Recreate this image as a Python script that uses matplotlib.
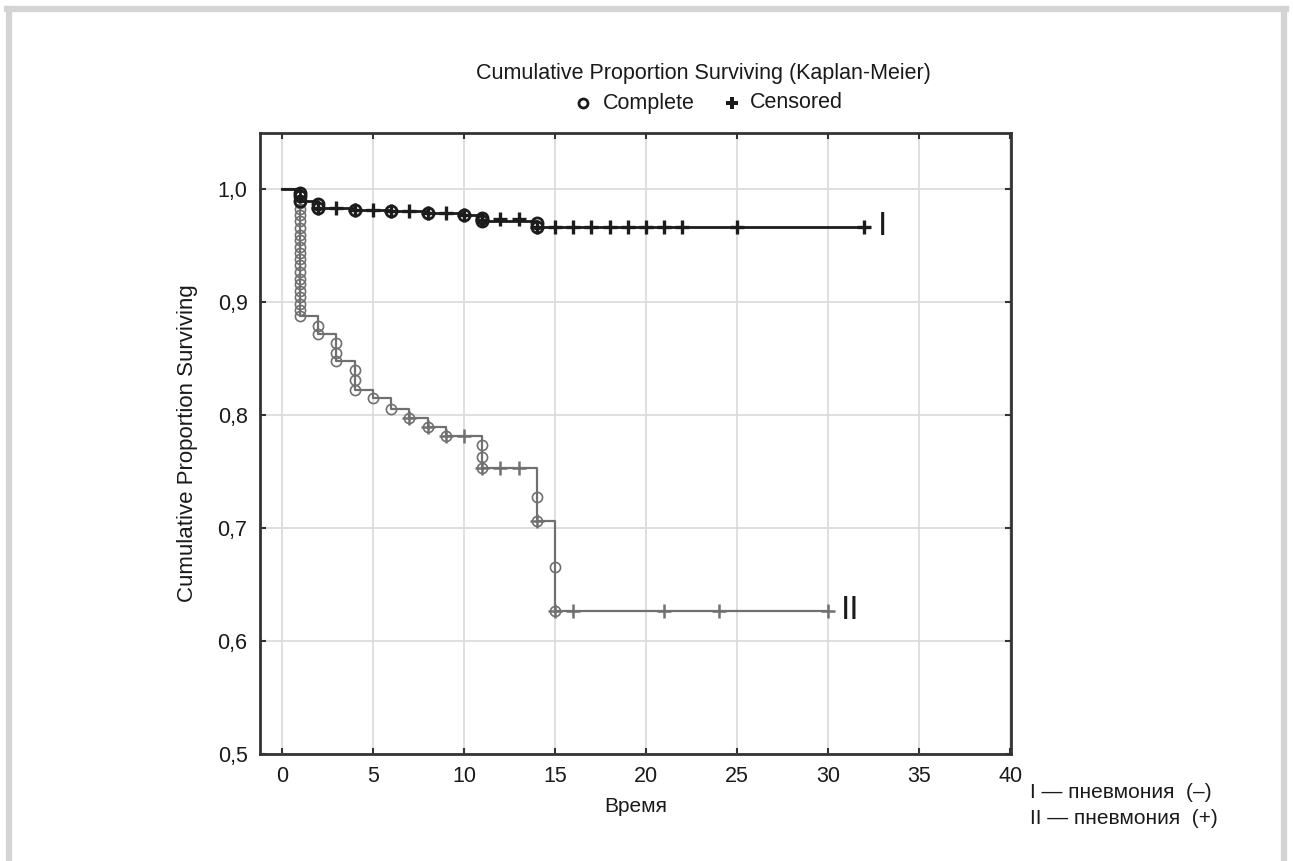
import matplotlib
matplotlib.use("Agg")
import matplotlib.pyplot as plt
from matplotlib.lines import Line2D

plt.rcParams['font.family'] = ['Liberation Sans', 'DejaVu Sans']

# group I (pneumonia -): step curve
t1 = [0, 1, 2, 4, 6, 8, 10, 11, 14, 32]
s1 = [1.0, 0.990, 0.984, 0.982, 0.981, 0.979, 0.977, 0.972, 0.967, 0.967]
# group I complete / censored marks
c1_x = [1, 1, 1, 2, 2, 4, 6, 8, 10, 11, 11, 14, 14]
c1_y = [0.997, 0.994, 0.990, 0.987, 0.984, 0.982, 0.981, 0.979, 0.977, 0.975, 0.972, 0.970, 0.967]
x1_x = [2, 3, 4, 5, 6, 7, 8, 9, 10, 11, 12, 13, 14, 15, 16, 17, 18, 19, 20, 21, 22, 25, 32]
x1_y = [0.984, 0.984, 0.982, 0.982, 0.981, 0.981, 0.979, 0.979, 0.977, 0.973, 0.974, 0.974,
        0.967, 0.967, 0.967, 0.967, 0.967, 0.967, 0.967, 0.967, 0.967, 0.967, 0.967]

# group II (pneumonia +)
t2 = [0, 1, 2, 3, 4, 5, 6, 7, 8, 9, 11, 14, 15, 30]
s2 = [1.0, 0.888, 0.872, 0.848, 0.822, 0.815, 0.806, 0.798, 0.790, 0.782, 0.753, 0.706, 0.627, 0.627]
c2_x = [1] * 20 + [2, 2, 3, 3, 3, 4, 4, 4, 5, 6, 7, 8, 9, 11, 11, 11, 14, 14, 15, 15]
c2_y = [0.994, 0.988, 0.983, 0.977, 0.972, 0.966, 0.960, 0.955, 0.949, 0.944,
        0.938, 0.933, 0.927, 0.921, 0.916, 0.910, 0.905, 0.899, 0.893, 0.888,
        0.879, 0.872, 0.864, 0.855, 0.848, 0.840, 0.831, 0.822, 0.815, 0.806,
        0.798, 0.790, 0.782, 0.774, 0.763, 0.753, 0.728, 0.706, 0.666, 0.627]
x2_x = [7, 8, 9, 10, 11, 12, 13, 14, 15, 16, 21, 24, 30]
x2_y = [0.798, 0.790, 0.782, 0.782, 0.753, 0.753, 0.753, 0.706, 0.627, 0.627, 0.627, 0.627, 0.627]

xticks = [0, 5, 10, 15, 20, 25, 30, 35, 40]
yticks = [0.5, 0.6, 0.7, 0.8, 0.9, 1.0]
ylabels = ['0,5', '0,6', '0,7', '0,8', '0,9', '1,0']

txt = '#1a1a1a'

fig = plt.figure(figsize=(12.93, 8.61), dpi=100)
ax = fig.add_axes([0.2011, 0.1243, 0.5808, 0.7212])

ax.grid(True, color='#dcdcdc', linewidth=1.3)
ax.set_axisbelow(True)

# group II (gray) first
g2 = '#707070'
ax.step(t2, s2, where='post', color=g2, lw=1.6, zorder=3)
ax.plot(c2_x, c2_y, 'o', ms=7.3, mfc='none', mec=g2, mew=1.2, zorder=4)
ax.plot(x2_x, x2_y, '+', ms=9.5, mec=g2, mew=1.8, zorder=4)

g1 = '#1c1c1c'
ax.step(t1, s1, where='post', color=g1, lw=2.0, zorder=5)
ax.plot(c1_x, c1_y, 'o', ms=8, mfc='none', mec=g1, mew=2.0, zorder=6)
ax.plot(x1_x, x1_y, '+', ms=9.5, mec=g1, mew=2.4, zorder=6)

ax.text(33.0, 0.967, 'I', fontsize=24, va='center', ha='center', color=txt)
ax.text(31.2, 0.627, 'II', fontsize=24, va='center', ha='center', color=txt)

ax.set_xlim(-1.2, 40.05)
ax.set_ylim(0.5, 1.05)
ax.set_xticks(xticks)
ax.set_yticks(yticks)
ax.set_yticklabels(ylabels)
ax.tick_params(direction='in', length=4, width=1.5, top=True, right=True,
               labeltop=False, labelright=False, labelsize=15.5, colors='#333333',
               labelcolor=txt, pad=9)
for sp in ax.spines.values():
    sp.set_linewidth(2)
    sp.set_color('#333333')

ax.set_xlabel('Время', fontsize=15, labelpad=7, color=txt)
ax.set_ylabel('Cumulative Proportion Surviving', fontsize=16, labelpad=14, color=txt)

fig.text(0.5437, 1 - 73 / 861, 'Cumulative Proportion Surviving (Kaplan-Meier)',
         fontsize=15.5, ha='center', va='center', color=txt)
fig.add_artist(Line2D([583 / 1293], [1 - 103 / 861], marker='o', ms=6.5, mfc='white',
                      mec=txt, mew=2, transform=fig.transFigure))
fig.text(603 / 1293, 1 - 103 / 861, 'Complete', fontsize=15.5, ha='left', va='center', color=txt)
fig.add_artist(Line2D([732 / 1293], [1 - 103 / 861], marker='P', ms=8, mfc=txt,
                      mec=txt, mew=0, transform=fig.transFigure))
fig.text(750 / 1293, 1 - 103 / 861, 'Censored', fontsize=15.5, ha='left', va='center', color=txt)

fig.text(1030 / 1293, 1 - 792 / 861, 'I — пневмония  (–)', fontsize=15, ha='left', va='center', color=txt)
fig.text(1030 / 1293, 1 - 818 / 861, 'II — пневмония  (+)', fontsize=15, ha='left', va='center', color=txt)

# light gray page frame
fc = '#d4d4d4'
fig.add_artist(Line2D([9 / 1293, 9 / 1293], [0, 1 - 9 / 861], color=fc, lw=4.5, transform=fig.transFigure))
fig.add_artist(Line2D([7 / 1293, 1286 / 1293], [1 - 9 / 861, 1 - 9 / 861], color=fc, lw=4.5, transform=fig.transFigure))
fig.add_artist(Line2D([1284 / 1293, 1284 / 1293], [0, 1 - 9 / 861], color=fc, lw=4.5, transform=fig.transFigure))

fig.savefig('out.png', dpi=100)
